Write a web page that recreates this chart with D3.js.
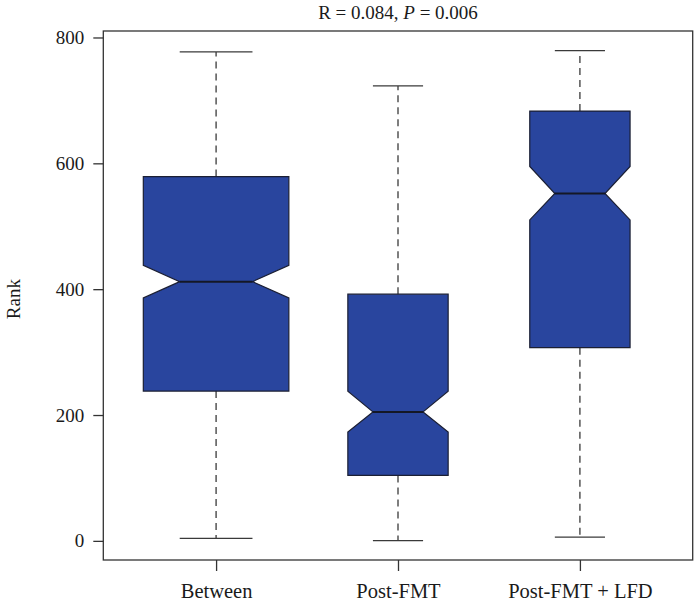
<!DOCTYPE html>
<html>
<head>
<meta charset="utf-8">
<script src="https://cdn.jsdelivr.net/npm/d3@7/dist/d3.min.js"></script>
<style>
  html, body { margin: 0; padding: 0; background: #fff; }
  svg { display: block; }
  text { font-family: "Liberation Serif", "DejaVu Serif", serif; fill: #1a1a1a; }
</style>
</head>
<body>
<svg id="chart" width="694" height="604"></svg>
<script>
// Rank distribution per group (notched boxplot summary)
const categories   = ["Between", "Post-FMT", "Post-FMT + LFD"];
const groupSize    = [400, 190, 190];
const whiskerLow   = [4, 0.5, 6];
const q1           = [238, 104, 307];
const notchLow     = [386, 173, 510];
const median       = [412, 205, 552];
const notchHigh    = [438, 238, 595];
const q3           = [579, 392, 683];
const whiskerHigh  = [777, 723, 779];
const yTicks       = [0, 200, 400, 600, 800];
const statR = "0.084";
const statP = "0.006";

const FONT = "19px";
const XFONT = "20.5px";
const svg = d3.select("#chart");
const plot = { left: 103.3, right: 692.7, top: 31, bottom: 560 };

const x = d3.scaleLinear().domain([0.38, 3.62]).range([plot.left, plot.right]);
const y = d3.scaleLinear().domain([-30.4, 810.3]).range([plot.bottom, plot.top]);

// box width follows sqrt of group size
const maxN = d3.max(groupSize);
const boxes = categories.map((c, i) => ({
  name: c, pos: i + 1,
  halfW: 0.4 * Math.sqrt(groupSize[i] / maxN),
  lo: whiskerLow[i], q1: q1[i], nl: notchLow[i], med: median[i],
  nh: notchHigh[i], q3: q3[i], hi: whiskerHigh[i]
}));

const g = svg.append("g");

// whiskers (dashed) and staples
boxes.forEach(b => {
  const cx = x(b.pos);
  const capL = x(b.pos - b.halfW / 2), capR = x(b.pos + b.halfW / 2);
  [[b.q3, b.hi], [b.q1, b.lo]].forEach(([a, e]) => {
    g.append("line")
      .attr("x1", cx).attr("x2", cx)
      .attr("y1", y(a)).attr("y2", y(e))
      .attr("stroke", "#3a3a3a").attr("stroke-width", 1.3)
      .attr("stroke-dasharray", "7,5");
    g.append("line")
      .attr("x1", capL).attr("x2", capR)
      .attr("y1", y(e)).attr("y2", y(e))
      .attr("stroke", "#3a3a3a").attr("stroke-width", 1.3);
  });
});

// notched boxes
boxes.forEach(b => {
  const L = x(b.pos - b.halfW), R = x(b.pos + b.halfW);
  const mL = x(b.pos - b.halfW / 2), mR = x(b.pos + b.halfW / 2);
  const pts = [
    [L, y(b.q3)], [R, y(b.q3)], [R, y(b.nh)], [mR, y(b.med)], [R, y(b.nl)],
    [R, y(b.q1)], [L, y(b.q1)], [L, y(b.nl)], [mL, y(b.med)], [L, y(b.nh)]
  ];
  g.append("polygon")
    .attr("points", pts.map(p => p.join(",")).join(" "))
    .attr("fill", "#29459e")
    .attr("stroke", "#1b1f33").attr("stroke-width", 1.2)
    .attr("stroke-linejoin", "miter");
  g.append("line")
    .attr("x1", mL).attr("x2", mR)
    .attr("y1", y(b.med)).attr("y2", y(b.med))
    .attr("stroke", "#141826").attr("stroke-width", 2);
});

// plot frame
svg.append("rect")
  .attr("x", plot.left).attr("y", plot.top)
  .attr("width", plot.right - plot.left).attr("height", plot.bottom - plot.top)
  .attr("fill", "none").attr("stroke", "#333").attr("stroke-width", 1.3);

// y axis
const yAxis = d3.axisLeft(y).tickValues(yTicks).tickSize(10).tickPadding(9);
const ya = svg.append("g").attr("transform", `translate(${plot.left},0)`).call(yAxis);
ya.select(".domain").remove();
ya.selectAll(".tick line").attr("stroke", "#333").attr("stroke-width", 1.3);
ya.selectAll(".tick text").style("font-size", FONT).attr("fill", "#1a1a1a")
  .style("font-family", "'Liberation Serif', serif");

// x axis
const xAxis = d3.axisBottom(x).tickValues(boxes.map(b => b.pos))
  .tickFormat((d, i) => categories[i]).tickSize(11).tickPadding(12);
const xa = svg.append("g").attr("transform", `translate(0,${plot.bottom})`).call(xAxis);
xa.select(".domain").remove();
xa.selectAll(".tick line").attr("stroke", "#333").attr("stroke-width", 1.3);
xa.selectAll(".tick text").style("font-size", XFONT).attr("fill", "#1a1a1a")
  .style("font-family", "'Liberation Serif', serif");

// y axis title
svg.append("text")
  .attr("transform", `translate(20,${(y(0) + y(800)) / 2 + 10}) rotate(-90)`)
  .attr("text-anchor", "middle")
  .style("font-size", FONT)
  .text("Rank");

// statistic title
const t = svg.append("text")
  .attr("x", (plot.left + plot.right) / 2).attr("y", 19)
  .attr("text-anchor", "middle")
  .style("font-size", FONT);
t.append("tspan").text(`R = ${statR}, `);
t.append("tspan").style("font-style", "italic").text("P");
t.append("tspan").text(` = ${statP}`);
</script>
</body>
</html>
